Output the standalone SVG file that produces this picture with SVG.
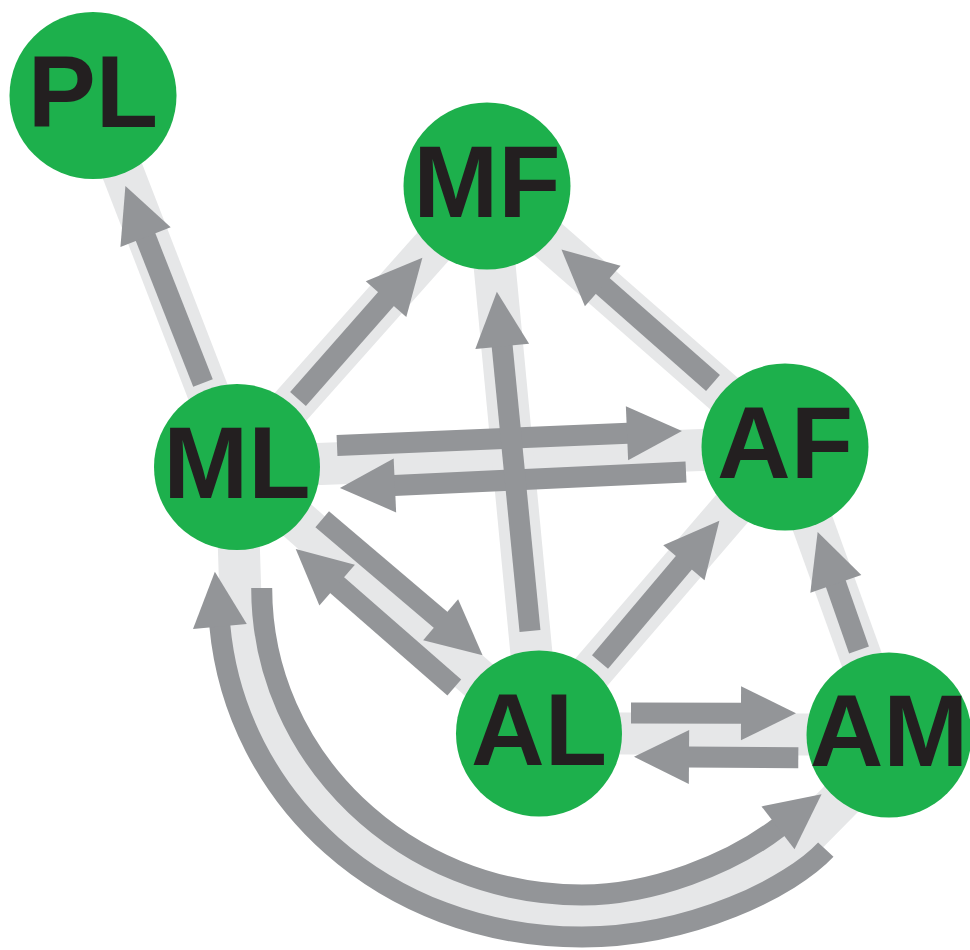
<svg xmlns="http://www.w3.org/2000/svg" width="970" height="950" viewBox="0 0 970 950">
<defs>
<style>
.band{stroke:#e6e7e8;stroke-width:42;fill:none;stroke-linecap:butt}
.arr{stroke:#939598;stroke-width:21;fill:none;stroke-linecap:butt;marker-end:url(#head)}
.node circle{fill:#1db04c}
.node text{font-family:"Liberation Sans",Arial,sans-serif;font-weight:bold;font-size:102px;fill:#231f20;text-anchor:middle}
</style>
<marker id="head" markerUnits="userSpaceOnUse" markerWidth="60" markerHeight="60" refX="1" refY="0" orient="auto" overflow="visible">
<path d="M0,-27 L55,0 L0,27 Z" fill="#939598"/>
</marker>
</defs>
<g id="bands">
<line class="band" x1="237" y1="467" x2="93" y2="95"/>
<line class="band" x1="237" y1="467" x2="487" y2="186"/>
<line class="band" x1="237" y1="467" x2="785" y2="447"/>
<line class="band" x1="539" y1="733" x2="487" y2="186"/>
<line class="band" x1="237" y1="467" x2="539" y2="733"/>
<line class="band" x1="539" y1="733" x2="785" y2="447"/>
<line class="band" x1="785" y1="447" x2="487" y2="186"/>
<line class="band" x1="889" y1="735" x2="785" y2="447"/>
<line class="band" x1="539" y1="733" x2="889" y2="735"/>
<path class="band" d="M238,520 L240.75,606.75 C248.6,777.2 393.65,916 582,916 C672,916 761.5,875.1 802.3,838.5 L860,780"/>
</g>
<g id="connectors">
<line class="arr" x1="203" y1="383" x2="145.2" y2="236.2"/>
<line class="arr" x1="298" y1="399" x2="386.7" y2="298.3"/>
<line class="arr" x1="337" y1="445.5" x2="628" y2="433.3"/>
<line class="arr" x1="686" y1="472" x2="393.9" y2="485.5"/>
<line class="arr" x1="530" y1="631" x2="502.1" y2="345.4"/>
<line class="arr" x1="322.2" y1="519.2" x2="441.4" y2="620.4"/>
<line class="arr" x1="454.3" y1="687.5" x2="336.4" y2="584.5"/>
<line class="arr" x1="600" y1="662" x2="684.5" y2="562"/>
<line class="arr" x1="713" y1="383" x2="602" y2="285.3"/>
<line class="arr" x1="859" y1="650" x2="835.5" y2="582.9"/>
<line class="arr" x1="631" y1="713" x2="742" y2="713.2"/>
<line class="arr" x1="798.3" y1="757.8" x2="688" y2="757.1"/>
<path class="arr" d="M261.7,588 C261.7,757.6 405.3,895 582,895 C652,895 731.3,863.9 778.8,827.2"/>
<path class="arr" d="M825.8,849.7 C791.7,886.3 692,937 582,937 C382,937 235.5,796.8 219.8,625.5"/>
</g>
<g id="PL" class="node"><circle cx="93" cy="95.5" r="83.5"/><text x="93" y="126.5">PL</text></g>
<g id="MF" class="node"><circle cx="487" cy="186" r="83.5"/><text x="487" y="217">MF</text></g>
<g id="ML" class="node"><circle cx="237" cy="467" r="83"/><text x="237" y="498">ML</text></g>
<g id="AF" class="node"><circle cx="785" cy="447" r="83.5"/><text x="785" y="478">AF</text></g>
<g id="AL" class="node"><circle cx="539" cy="733.5" r="83"/><text x="539" y="764.5">AL</text></g>
<g id="AM" class="node"><circle cx="889" cy="735" r="82.5"/><text x="889" y="766">AM</text></g>
</svg>
